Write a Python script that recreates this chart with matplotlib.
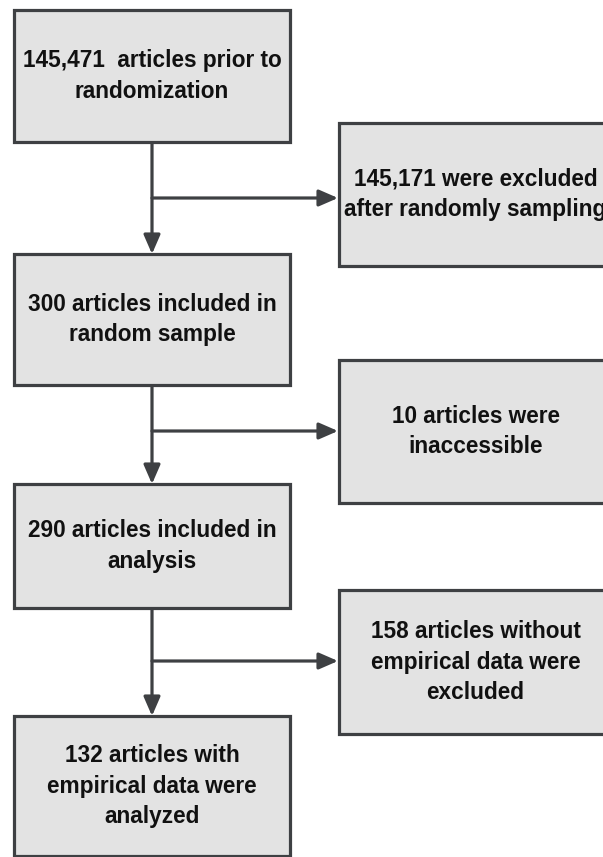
import matplotlib.pyplot as plt
from matplotlib.patches import Rectangle

# textos de las cajas
pasos = ["145,471  articles prior to\nrandomization",
         "300 articles included in\nrandom sample",
         "290 articles included in\nanalysis",
         "132 articles with\nempirical data were\nanalyzed"]
excluidos = ["145,171 were excluded\nafter randomly sampling",
             "10 articles were\ninaccessible",
             "158 articles without\nempirical data were\nexcluded"]

# posiciones en pixeles (y hacia abajo)
cajas_izq = [(10, 142), (254, 385), (484, 608), (716, 856)]
cajas_der = [(123, 266), (360, 503), (590, 734)]
x_izq = (14, 290)
x_der = (339, 612)
x_linea = 152
y_flechas = [198, 431, 661]

relleno = '#e3e3e3'
borde = '#3e4043'

fig = plt.figure(figsize=(6.03, 8.57), dpi=100)
ax = fig.add_axes([0, 0, 1, 1])
ax.set_xlim(0, 603)
ax.set_ylim(857, 0)
ax.axis('off')


def caja(x0, x1, y0, y1, texto):
    ax.add_patch(Rectangle((x0, y0), x1 - x0, y1 - y0, facecolor=relleno,
                           edgecolor=borde, lw=2.3, zorder=2))
    ax.text((x0 + x1) / 2, (y0 + y1) / 2, texto, ha='center', va='center',
            fontsize=16.3, fontweight='bold', family='Liberation Sans',
            color='#111111', linespacing=1.4, zorder=3)


def flecha(x0, y0, x1, y1):
    ax.annotate('', xy=(x1, y1), xytext=(x0, y0),
                arrowprops=dict(arrowstyle='-|>,head_length=1.15,head_width=0.5',
                                mutation_scale=10, lw=2.3, color=borde,
                                shrinkA=0, shrinkB=0), zorder=1)


for (y0, y1), t in zip(cajas_izq, pasos):
    caja(x_izq[0], x_izq[1], y0, y1, t)

for (y0, y1), t in zip(cajas_der, excluidos):
    caja(x_der[0], x_der[1], y0, y1, t)

# flechas verticales y laterales
for i in range(3):
    flecha(x_linea, cajas_izq[i][1], x_linea, cajas_izq[i + 1][0])
    flecha(x_linea, y_flechas[i], x_der[0] - 1, y_flechas[i])

fig.savefig('out.png', dpi=100)
